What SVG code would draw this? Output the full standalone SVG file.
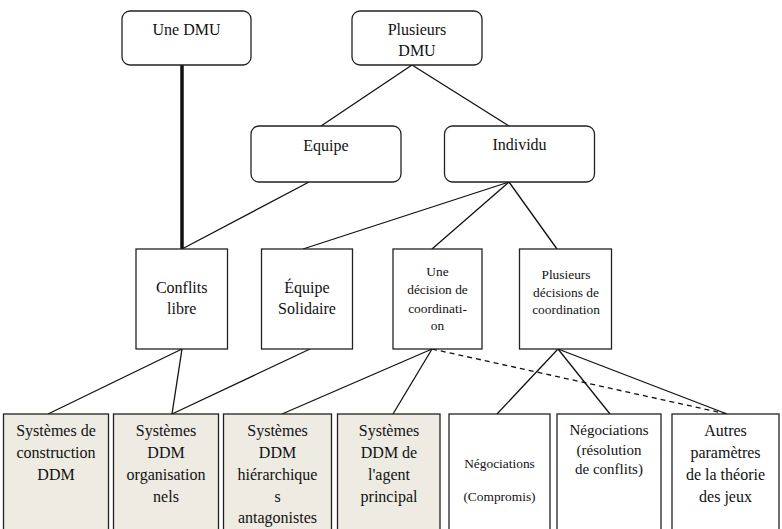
<svg xmlns="http://www.w3.org/2000/svg" width="782" height="529" viewBox="0 0 782 529">
<style>
.rb{fill:#fff;stroke:#222;stroke-width:1.3}
.bx{fill:#fff;stroke:#222;stroke-width:1.3}
.bg{fill:#edebe2;stroke:#222;stroke-width:1.3}
text{font-family:"Liberation Serif","Times New Roman",serif;fill:#111;text-anchor:middle}
.t16{font-size:16px}
.t15{font-size:15px}
.t13{font-size:13.4px}
.ln{stroke:#111;stroke-width:1.3;fill:none}
</style>
<rect width="782" height="529" fill="#fff"/>
<g id="connectors">
<line class="ln" x1="182" y1="65" x2="182" y2="249" style="stroke-width:3.5"/>
<line class="ln" x1="412" y1="65" x2="321" y2="126"/>
<line class="ln" x1="412" y1="65" x2="509" y2="126"/>
<line class="ln" x1="309" y1="182" x2="182" y2="249"/>
<line class="ln" x1="509" y1="182" x2="303" y2="249"/>
<line class="ln" x1="509" y1="182" x2="432" y2="249"/>
<line class="ln" x1="509" y1="182" x2="557" y2="249"/>
<line class="ln" x1="182" y1="349" x2="48" y2="414"/>
<line class="ln" x1="182" y1="349" x2="172" y2="414"/>
<line class="ln" x1="310" y1="349" x2="172" y2="414"/>
<line class="ln" x1="432" y1="349" x2="282" y2="414"/>
<line class="ln" x1="432" y1="349" x2="393" y2="414"/>
<line class="ln" x1="432" y1="349" x2="727" y2="414" stroke-dasharray="5,4"/>
<line class="ln" x1="558" y1="349" x2="497" y2="414"/>
<line class="ln" x1="558" y1="349" x2="610" y2="414"/>
<line class="ln" x1="558" y1="349" x2="727" y2="414"/>
</g>
<g id="une-dmu"><rect class="rb" x="122" y="11" width="129" height="54" rx="8"/><text class="t16" x="186.5" y="35">Une DMU</text></g>
<g id="plusieurs-dmu"><rect class="rb" x="352" y="11" width="130" height="54" rx="8"/><text class="t16" x="417" y="35">Plusieurs</text><text class="t16" x="417" y="56">DMU</text></g>
<g id="equipe"><rect class="rb" x="251" y="126" width="150" height="56" rx="8"/><text class="t16" x="326" y="151">Equipe</text></g>
<g id="individu"><rect class="rb" x="444.5" y="126" width="150" height="56" rx="8"/><text class="t16" x="519.5" y="150">Individu</text></g>
<g id="conflits-libre"><rect class="bx" x="136" y="249" width="91.5" height="100"/><text class="t16" x="181.7" y="293">Conflits</text><text class="t16" x="181.7" y="314">libre</text></g>
<g id="equipe-solidaire"><rect class="bx" x="261.5" y="249" width="91" height="100"/><text class="t16" x="307" y="293">Équipe</text><text class="t16" x="307" y="314">Solidaire</text></g>
<g id="une-decision"><rect class="bx" x="393" y="249" width="89" height="100"/><text class="t13" x="437.5" y="276">Une</text><text class="t13" x="437.5" y="294">décision de</text><text class="t13" x="437.5" y="312.5">coordinati-</text><text class="t13" x="437.5" y="330">on</text></g>
<g id="plusieurs-decisions"><rect class="bx" x="519.5" y="249" width="92" height="100"/><text class="t13" x="566" y="279">Plusieurs</text><text class="t13" x="566" y="296.5">décisions de</text><text class="t13" x="566" y="313.5">coordination</text></g>
<g id="sys-construction"><rect class="bg" x="3.5" y="414" width="105" height="130"/><text class="t16" x="56" y="436">Systèmes de</text><text class="t16" x="56" y="458">construction</text><text class="t16" x="56" y="479.5">DDM</text></g>
<g id="sys-organisationnels"><rect class="bg" x="113.5" y="414" width="105" height="130"/><text class="t16" x="166" y="436">Systèmes</text><text class="t16" x="166" y="458">DDM</text><text class="t16" x="166" y="479.5">organisation</text><text class="t16" x="166" y="501.5">nels</text></g>
<g id="sys-hierarchiques"><rect class="bg" x="223.5" y="414" width="108" height="130"/><text class="t16" x="277.5" y="436">Systèmes</text><text class="t16" x="277.5" y="458">DDM</text><text class="t16" x="277.5" y="479.5">hiérarchique</text><text class="t16" x="277.5" y="501.5">s</text><text class="t16" x="277.5" y="523">antagonistes</text></g>
<g id="sys-agent-principal"><rect class="bg" x="337.5" y="414" width="102.5" height="130"/><text class="t16" x="389" y="436">Systèmes</text><text class="t16" x="389" y="458">DDM de</text><text class="t16" x="389" y="479.5">l'agent</text><text class="t16" x="389" y="501.5">principal</text></g>
<g id="negociations-compromis"><rect class="bx" x="449" y="414" width="101" height="130"/><text class="t13" x="499.5" y="468">Négociations</text><text class="t13" x="499.5" y="500.5">(Compromis)</text></g>
<g id="negociations-resolution"><rect class="bx" x="557" y="414" width="104" height="130"/><text class="t15" x="609" y="434.5">Négociations</text><text class="t15" x="609" y="454.5">(résolution</text><text class="t15" x="609" y="474">de conflits)</text></g>
<g id="autres-parametres"><rect class="bx" x="672" y="414" width="107" height="130"/><text class="t16" x="725.5" y="436">Autres</text><text class="t16" x="725.5" y="458">paramètres</text><text class="t16" x="725.5" y="480">de la théorie</text><text class="t16" x="725.5" y="501.5">des jeux</text></g>
</svg>
